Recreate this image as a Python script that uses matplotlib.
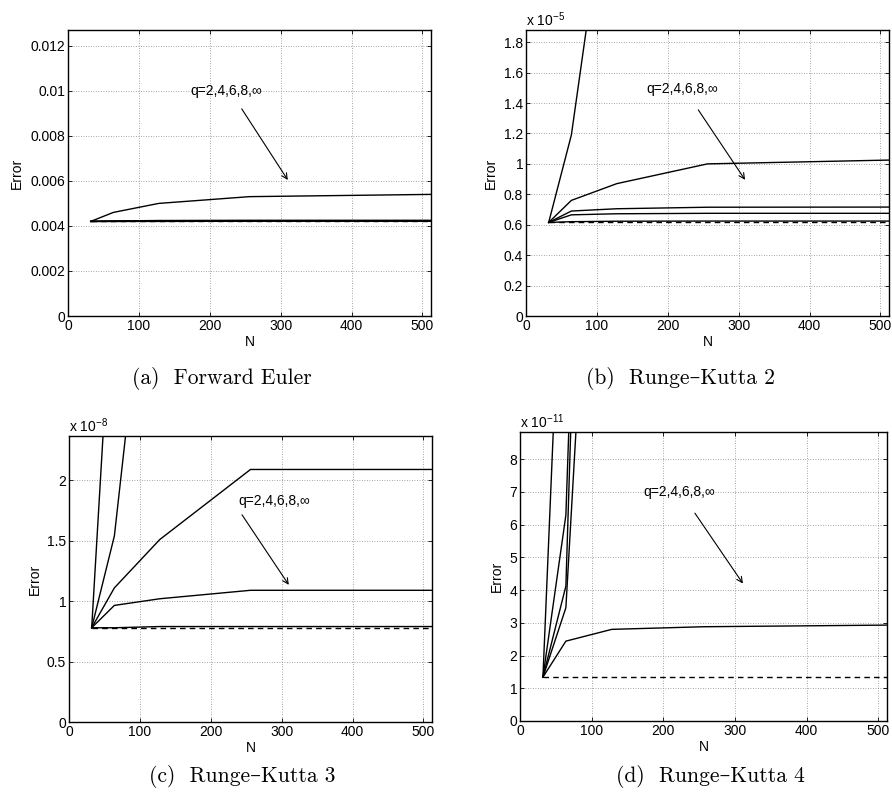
import matplotlib
matplotlib.use("Agg")
import matplotlib.pyplot as plt
from matplotlib.ticker import MultipleLocator, FuncFormatter

plt.rcParams['font.family'] = ['Liberation Sans', 'DejaVu Sans']
plt.rcParams['font.size'] = 10
plt.rcParams['mathtext.fontset'] = 'custom'
plt.rcParams['mathtext.rm'] = 'Liberation Sans'
plt.rcParams['mathtext.it'] = 'Liberation Sans:italic'
plt.rcParams['mathtext.bf'] = 'Liberation Sans:bold'

# ---------------- data ----------------
N = [32, 64, 128, 256, 512]
x_ticks = [0, 100, 200, 300, 400, 500]

# (a) Forward Euler
fe_q2 = [0.0042, 0.0046, 0.0050, 0.0053, 0.0054]
fe_q4 = [0.0042, 0.00422, 0.00424, 0.00425, 0.00425]
fe_q6 = [0.0042, 0.00421, 0.00422, 0.00423, 0.00423]
fe_q8 = [0.0042, 0.0042, 0.00421, 0.00422, 0.00422]
fe_qinf = [0.0042, 0.0042, 0.0042, 0.00421, 0.00421]
fe_ref = [0.0042, 0.0042, 0.0042, 0.0042, 0.0042]

# (b) Runge-Kutta 2
rk2_q2 = [0.615e-5, 1.19e-5, 3.3e-5, 12e-5, 45e-5]
rk2_q4 = [0.615e-5, 0.76e-5, 0.87e-5, 1.0e-5, 1.025e-5]
rk2_q6 = [0.615e-5, 0.69e-5, 0.705e-5, 0.715e-5, 0.716e-5]
rk2_q8 = [0.615e-5, 0.665e-5, 0.672e-5, 0.675e-5, 0.675e-5]
rk2_qinf = [0.615e-5, 0.62e-5, 0.623e-5, 0.624e-5, 0.624e-5]
rk2_ref = [0.617e-5, 0.617e-5, 0.617e-5, 0.617e-5, 0.617e-5]

# (c) Runge-Kutta 3
rk3_q2 = [0.78e-8, 3.96e-8, 12e-8, 40e-8, 150e-8]
rk3_q4 = [0.78e-8, 1.54e-8, 4.9e-8, 15e-8, 50e-8]
rk3_q6 = [0.78e-8, 1.11e-8, 1.51e-8, 2.09e-8, 2.09e-8]
rk3_q8 = [0.78e-8, 0.965e-8, 1.02e-8, 1.09e-8, 1.09e-8]
rk3_qinf = [0.78e-8, 0.78e-8, 0.79e-8, 0.79e-8, 0.79e-8]
rk3_ref = [0.775e-8, 0.775e-8, 0.775e-8, 0.775e-8, 0.775e-8]

# (d) Runge-Kutta 4
rk4_q2 = [1.34e-11, 18e-11, 70e-11, 250e-11, 900e-11]
rk4_q4 = [1.34e-11, 6.29e-11, 47e-11, 150e-11, 500e-11]
rk4_q6 = [1.34e-11, 4.12e-11, 49e-11, 160e-11, 520e-11]
rk4_q8 = [1.34e-11, 3.46e-11, 28e-11, 100e-11, 300e-11]
rk4_qinf = [1.34e-11, 2.44e-11, 2.8e-11, 2.88e-11, 2.93e-11]
rk4_ref = [1.34e-11, 1.34e-11, 1.34e-11, 1.34e-11, 1.34e-11]

captions = ["(a)  Forward Euler", "(b)  Runge\u2013Kutta 2",
            "(c)  Runge\u2013Kutta 3", "(d)  Runge\u2013Kutta 4"]
annot_text = "q=2,4,6,8,\u221e"

W, H = 892, 796
fig = plt.figure(figsize=(W / 100, H / 100), dpi=100)


def make_axes(l, r, t, b):
    return fig.add_axes([l / W, 1 - b / H, (r - l) / W, (b - t) / H])


panels = [
    dict(box=(68, 431, 30, 316), series=[fe_q2, fe_q4, fe_q6, fe_q8, fe_qinf], ref=fe_ref,
         ylim=0.0127, step=0.002, scale=None, exp=None,
         text_xy=(223, 0.0100), arr_from=(245, 0.0092), arr_to=(310, 0.00604),
         ylab_x=-0.121, cap=(222, 378)),
    dict(box=(526, 889, 30, 316), series=[rk2_q2, rk2_q4, rk2_q6, rk2_q8, rk2_qinf], ref=rk2_ref,
         ylim=1.88e-5, step=0.2e-5, scale=1e-5, exp="-5",
         text_xy=(221, 1.49e-5), arr_from=(243, 1.355e-5), arr_to=(309, 0.895e-5),
         ylab_x=-0.077, cap=(680, 378)),
    dict(box=(69, 432, 436, 722), series=[rk3_q2, rk3_q4, rk3_q6, rk3_q8, rk3_qinf], ref=rk3_ref,
         ylim=2.367e-8, step=0.5e-8, scale=1e-8, exp="-8",
         text_xy=(289, 1.83e-8), arr_from=(244, 1.715e-8), arr_to=(310, 1.135e-8),
         ylab_x=-0.074, cap=(242, 776)),
    dict(box=(520, 887, 432, 721), series=[rk4_q2, rk4_q4, rk4_q6, rk4_q8, rk4_qinf], ref=rk4_ref,
         ylim=8.83e-11, step=1e-11, scale=1e-11, exp="-11",
         text_xy=(222, 7.0e-11), arr_from=(244, 6.35e-11), arr_to=(311, 4.2e-11),
         ylab_x=-0.044, cap=(710, 776)),
]

for p, cap in zip(panels, captions):
    ax = make_axes(*p['box'])
    for s in p['series']:
        ax.plot(N, s, color='black', lw=1.0, solid_joinstyle='miter')
    ax.plot(N, p['ref'], color='black', lw=1.0, ls=(0, (4, 3)))
    ax.set_xlim(0, 512)
    ax.set_ylim(0, p['ylim'])
    ax.set_xticks(x_ticks)
    ax.yaxis.set_major_locator(MultipleLocator(p['step']))
    if p['scale'] is None:
        ax.yaxis.set_major_formatter(FuncFormatter(lambda v, pos: f"{v:.10g}" if abs(v) > 1e-12 else "0"))
    else:
        sc = p['scale']
        ax.yaxis.set_major_formatter(FuncFormatter(lambda v, pos, sc=sc: f"{round(v / sc, 6):g}"))
        ax.text(0.0, 1.005, "x 10$^{" + p['exp'].replace('-', '\u2212') + "}$",
                transform=ax.transAxes, ha='left', va='bottom', fontsize=10)
    ax.grid(True, ls=(0, (1, 2)), color='#888888', lw=0.6)
    ax.tick_params(direction='in', top=True, right=True, length=3, width=0.6,
                   labelsize=10, pad=2)
    for sp in ax.spines.values():
        sp.set_linewidth(1.0)
    ax.set_xlabel("N", fontsize=10)
    ax.set_ylabel("Error", fontsize=10)
    ax.xaxis.set_label_coords(0.5, -0.066)
    ax.yaxis.set_label_coords(p['ylab_x'], 0.5)
    ax.annotate("", xy=p['arr_to'], xytext=p['arr_from'],
                arrowprops=dict(arrowstyle='->', color='black', lw=0.8,
                                shrinkA=0, shrinkB=0, mutation_scale=10))
    ax.text(p['text_xy'][0], p['text_xy'][1], annot_text, ha='center', va='center', fontsize=10)
    fig.text(p['cap'][0] / W, 1 - p['cap'][1] / H, cap,
             ha='center', va='center', fontsize=15.5, family=['cmr10', 'DejaVu Serif'])

fig.savefig("out.png", dpi=100)
